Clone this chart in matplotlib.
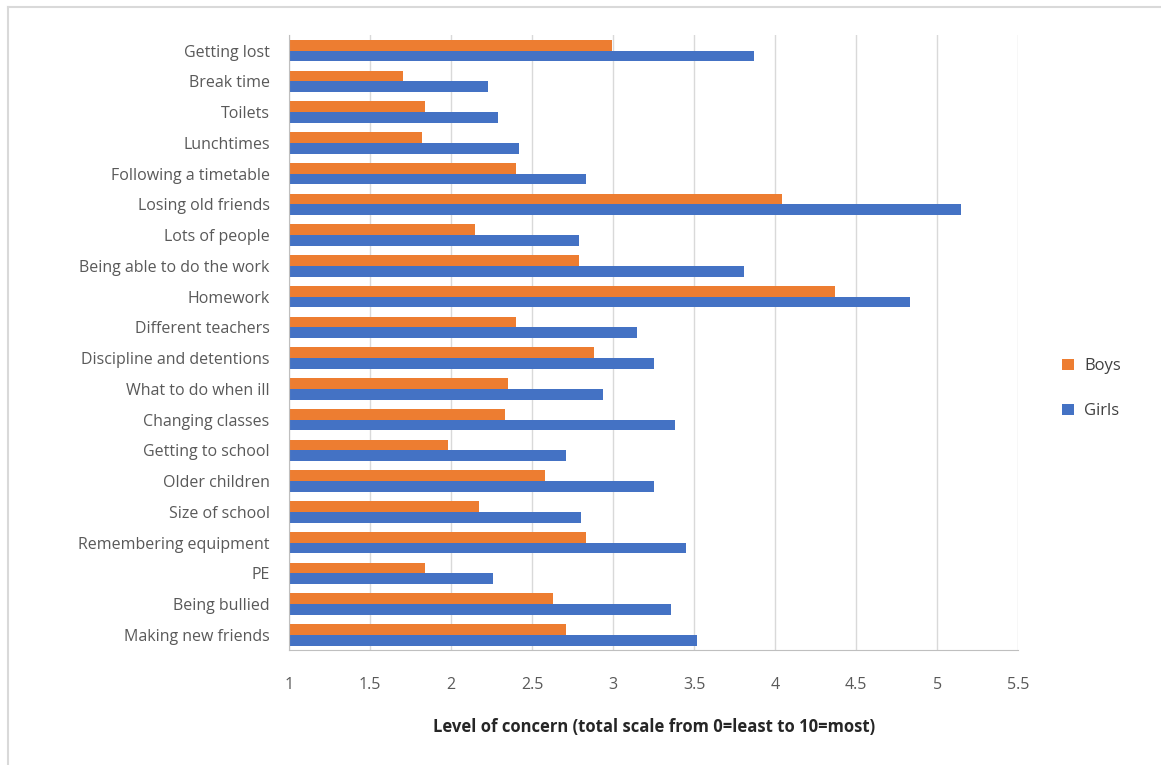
import matplotlib.pyplot as plt
import numpy as np
from matplotlib.lines import Line2D

plt.rcParams['font.family'] = ['Open Sans', 'DejaVu Sans']

# bottom to top, as drawn
categories = ["Making new friends", "Being bullied", "PE", "Remembering equipment",
              "Size of school", "Older children", "Getting to school", "Changing classes",
              "What to do when ill", "Discipline and detentions", "Different teachers",
              "Homework", "Being able to do the work", "Lots of people", "Losing old friends",
              "Following a timetable", "Lunchtimes", "Toilets", "Break time", "Getting lost"]
boys = [2.71, 2.63, 1.84, 2.83, 2.17, 2.58, 1.98, 2.33, 2.35, 2.88,
        2.40, 4.37, 2.79, 2.15, 4.04, 2.40, 1.82, 1.84, 1.70, 2.99]
girls = [3.52, 3.36, 2.26, 3.45, 2.80, 3.25, 2.71, 3.38, 2.94, 3.25,
         3.15, 4.83, 3.81, 2.79, 5.15, 2.83, 2.42, 2.29, 2.23, 3.87]

orange = '#ED7D31'
blue = '#4472C4'

fig = plt.figure(figsize=(11.61, 7.65), dpi=100)
ax = fig.add_axes([0.249, 0.150, 0.628, 0.804])

y = np.arange(len(categories))
h = 0.35
ax.barh(y + h / 2, np.array(boys) - 1, left=1, height=h, color=orange, label='Boys')
ax.barh(y - h / 2, np.array(girls) - 1, left=1, height=h, color=blue, label='Girls')

ax.set_xlim(1, 5.5)
ax.set_ylim(-0.5, len(categories) - 0.5)
ax.set_xticks(np.arange(1, 5.51, 0.5))
ax.set_xticklabels(['1', '1.5', '2', '2.5', '3', '3.5', '4', '4.5', '5', '5.5'])
ax.set_yticks(y)
ax.set_yticklabels(categories)
ax.tick_params(axis='both', length=0, labelsize=11.5, labelcolor='#595959')
ax.tick_params(axis='y', pad=14)
ax.tick_params(axis='x', pad=19)
ax.grid(axis='x', color='#d9d9d9', linewidth=1)
ax.set_axisbelow(True)
for s in ['top', 'right']:
    ax.spines[s].set_visible(False)
ax.spines['left'].set_color('#bfbfbf')
ax.spines['bottom'].set_color('#bfbfbf')

ax.set_xlabel('Level of concern (total scale from 0=least to 10=most)',
              fontsize=12, fontweight='bold', color='#262626', labelpad=18)

ax.legend(loc='center left', bbox_to_anchor=(1.04, 0.425), frameon=False,
          fontsize=12, handlelength=0.7, handleheight=0.7, labelspacing=1.75,
          handletextpad=0.6, labelcolor='#404040')

# faint frame: top and left edges only
top = 1 - 7 / 765
left = 8 / 1161
fig.add_artist(Line2D([left, 1], [top, top], transform=fig.transFigure,
                      color='#d9d9d9', linewidth=1.5))
fig.add_artist(Line2D([left, left], [0, top], transform=fig.transFigure,
                      color='#d9d9d9', linewidth=1.5))

fig.savefig('out.png', dpi=100)
